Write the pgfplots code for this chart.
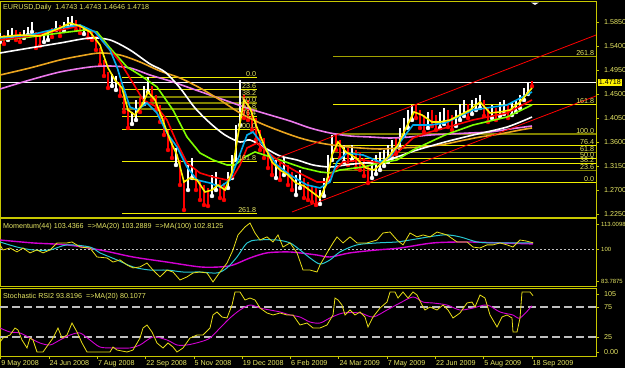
\documentclass[border=0pt]{standalone}
\usepackage{pgfplots}
\usepackage{pgfplotstable}
\pgfplotsset{compat=1.18}
\usepackage{fontspec}
\setmainfont{Liberation Sans}
\newcommand\fs{\fontsize{7.2}{8.6}\selectfont}
\newcommand\fss{\fontsize{6}{7.2}\selectfont}
\definecolor{fg}{RGB}{200,200,0}
\definecolor{txt}{RGB}{230,230,100}
\definecolor{fibolive}{RGB}{130,130,0}
\definecolor{fibyel}{RGB}{240,240,0}
\definecolor{maorange}{RGB}{235,165,30}
\definecolor{maviolet}{RGB}{235,120,235}
\definecolor{malime}{RGB}{128,255,0}
\definecolor{momcyan}{RGB}{40,200,210}
\definecolor{mommag}{RGB}{210,0,210}

\pgfplotstableread{
x lo hi
0 1.5475 1.5644
8 1.5513 1.5700
12 1.5569 1.5738
24 1.5550 1.5700
28 1.5606 1.5756
32 1.5663 1.5850
44 1.5475 1.5644
48 1.5513 1.5700
56 1.5700 1.5869
64 1.5681 1.5850
68 1.5756 1.5944
72 1.5794 1.5963
84 1.5625 1.5775
112 1.4650 1.4875
116 1.4575 1.4838
132 1.3938 1.4163
136 1.4013 1.4388
144 1.4313 1.4650
148 1.4538 1.4819
176 1.3169 1.3488
188 1.2700 1.3169
192 1.2925 1.3300
212 1.2588 1.2981
216 1.2700 1.3038
228 1.2738 1.3038
232 1.2925 1.3356
236 1.3263 1.3919
240 1.3919 1.4763
276 1.2925 1.3263
284 1.2981 1.3300
296 1.2606 1.2981
300 1.2738 1.3075
320 1.2438 1.2700
324 1.2588 1.2925
328 1.2888 1.3356
332 1.3263 1.3731
344 1.3225 1.3544
352 1.3263 1.3544
372 1.2925 1.3263
376 1.3000 1.3356
380 1.3075 1.3413
384 1.3150 1.3450
388 1.3225 1.3544
392 1.3300 1.3638
400 1.3488 1.3863
404 1.3713 1.4050
408 1.3863 1.4200
412 1.4013 1.4294
428 1.3863 1.4163
440 1.3863 1.4163
444 1.3938 1.4238
456 1.3900 1.4200
460 1.4013 1.4313
464 1.4088 1.4388
472 1.4125 1.4388
476 1.4200 1.4425
480 1.4238 1.4481
492 1.4050 1.4294
500 1.4088 1.4350
504 1.4125 1.4388
512 1.4106 1.4350
516 1.4163 1.4388
520 1.4238 1.4481
524 1.4388 1.4613
528 1.4500 1.4725
}\upbars

\pgfplotstableread{
x lo hi
4 1.5438 1.5606
16 1.5513 1.5700
20 1.5475 1.5663
36 1.5363 1.5663
40 1.5400 1.5588
52 1.5569 1.5738
60 1.5588 1.5794
76 1.5700 1.5888
80 1.5644 1.5813
88 1.5550 1.5738
92 1.5513 1.5700
96 1.5325 1.5588
100 1.5044 1.5363
104 1.4838 1.5138
108 1.4613 1.4913
120 1.4463 1.4725
124 1.4163 1.4538
128 1.3863 1.4238
140 1.4163 1.4425
152 1.4388 1.4650
156 1.4200 1.4481
160 1.3975 1.4294
164 1.3731 1.4050
168 1.3450 1.3825
172 1.3300 1.3638
180 1.2794 1.3263
184 1.2325 1.2888
196 1.2700 1.3075
200 1.2513 1.2888
204 1.2419 1.2794
208 1.2400 1.2738
220 1.2550 1.2888
224 1.2513 1.2831
244 1.4050 1.4481
248 1.4013 1.4388
252 1.3825 1.4200
256 1.3638 1.4050
260 1.3450 1.3825
264 1.3300 1.3675
268 1.3113 1.3450
272 1.2981 1.3356
280 1.2888 1.3206
288 1.2794 1.3169
292 1.2700 1.3038
304 1.2550 1.2925
308 1.2513 1.2850
312 1.2475 1.2775
316 1.2419 1.2738
336 1.3450 1.3769
340 1.3300 1.3638
348 1.3169 1.3488
356 1.3113 1.3450
360 1.3075 1.3413
364 1.2963 1.3300
368 1.2831 1.3169
396 1.3375 1.3675
416 1.4050 1.4313
420 1.3863 1.4200
424 1.3788 1.4106
432 1.3900 1.4200
436 1.3825 1.4106
448 1.3881 1.4200
452 1.3825 1.4106
468 1.4050 1.4313
484 1.4088 1.4388
488 1.3975 1.4238
496 1.4013 1.4238
508 1.4050 1.4313
532 1.4646 1.4743
}\downbars

\pgfplotsset{
  mtpanel/.style={
    scale only axis, width=596bp, xmin=0, xmax=596,
    anchor=north west,
    axis line style={fg, line width=1bp},
    tick style={fg, line width=0.8bp},
    major tick length=3bp, tick align=outside,
    ytick pos=right, yticklabel pos=right,
    xtick=\empty,
    yticklabel style={font=\fs, text=txt, anchor=west, inner sep=0pt, xshift=5bp},
    clip mode=individual,
  },
}

\begin{document}
\begin{tikzpicture}
\path[use as bounding box] (0bp,0bp) rectangle (625bp,368bp);
\fill[black] (0bp,0bp) rectangle (625bp,368bp);

% ---------------- main price panel ----------------
\begin{axis}[mtpanel, at={(0bp,366bp)}, height=215.5bp,
  ymin=1.21844, ymax=1.6225,
  ytick={1.2250,1.2700,1.3150,1.3600,1.4050,1.4500,1.4950,1.5400,1.5850},
  yticklabels={1.2250,1.2700,1.3150,1.3600,1.4050,1.4500,1.4950,1.5400,1.5850}]

% left Fibonacci levels
\addplot[fibyel, line width=0.8bp] coordinates {(122,1.4819) (257,1.4819)};
\addplot[fibyel, line width=0.8bp] coordinates {(122,1.4589) (257,1.4589)};
\addplot[fibolive, line width=1.4bp] coordinates {(122,1.4447) (257,1.4447)};
\addplot[fibolive, line width=1.4bp] coordinates {(122,1.4332) (257,1.4332)};
\addplot[fibolive, line width=1.4bp] coordinates {(122,1.4216) (257,1.4216)};
\addplot[fibyel, line width=0.8bp] coordinates {(122,1.4074) (257,1.4074)};
\addplot[fibyel, line width=0.8bp] coordinates {(122,1.3844) (257,1.3844)};
\addplot[fibyel, line width=0.8bp] coordinates {(122,1.3241) (257,1.3241)};
\addplot[fibyel, line width=0.8bp] coordinates {(122,1.2266) (257,1.2266)};
% right Fibonacci levels
\addplot[fibyel, line width=0.8bp] coordinates {(333,1.2850) (596,1.2850)};
\addplot[fibolive, line width=1.4bp] coordinates {(333,1.3062) (596,1.3062)};
\addplot[fibyel, line width=0.8bp] coordinates {(333,1.3194) (596,1.3194)};
\addplot[fibyel, line width=0.8bp] coordinates {(333,1.3300) (596,1.3300)};
\addplot[fibolive, line width=1.4bp] coordinates {(333,1.3406) (596,1.3406)};
\addplot[fibyel, line width=0.8bp] coordinates {(333,1.3538) (596,1.3538)};
\addplot[fibolive, line width=1.4bp] coordinates {(333,1.3750) (596,1.3750)};
\addplot[fibyel, line width=0.8bp] coordinates {(333,1.4306) (596,1.4306)};
\addplot[fibolive!70!fibyel, line width=1bp] coordinates {(333,1.5206) (596,1.5206)};
% bid line
\addplot[white, line width=0.8bp] coordinates {(0,1.4718) (596,1.4718)};

% candles
\addplot[white, only marks, mark=none, error bars/.cd, y dir=plus, y explicit,
  error mark=none, error bar style={white, line width=2.6bp}]
  table[x=x, y=lo, y error plus expr=\thisrow{hi}-\thisrow{lo}] {\upbars};
\addplot[red, only marks, mark=none, error bars/.cd, y dir=plus, y explicit,
  error mark=none, error bar style={red, line width=2.6bp}]
  table[x=x, y=lo, y error plus expr=\thisrow{hi}-\thisrow{lo}] {\downbars};

% moving averages
\addplot[maviolet, line width=1.6bp, smooth] coordinates {
(0,1.4594) (30,1.4763) (60,1.4913) (90,1.5006) (110,1.5025) (130,1.4988) (150,1.4856)
(170,1.4744) (190,1.4613) (210,1.4481) (230,1.4350) (250,1.4219) (270,1.4106) (290,1.3994)
(310,1.3863) (330,1.3769) (350,1.3713) (370,1.3694) (390,1.3675) (410,1.3694) (430,1.3731)
(450,1.3750) (470,1.3769) (490,1.3788) (510,1.3844) (532,1.3900)};
\addplot[maorange, line width=1.6bp, smooth] coordinates {
(0,1.4856) (30,1.4988) (60,1.5138) (80,1.5213) (100,1.5269) (120,1.5231) (140,1.5100)
(160,1.4931) (180,1.4800) (200,1.4613) (220,1.4388) (240,1.4144) (260,1.3956) (280,1.3806)
(300,1.3675) (320,1.3581) (340,1.3525) (360,1.3488) (380,1.3469) (400,1.3488) (420,1.3506)
(440,1.3544) (460,1.3619) (480,1.3694) (500,1.3750) (520,1.3825) (532,1.3863)};
\addplot[white, line width=1.6bp, smooth] coordinates {
(0,1.5269) (30,1.5363) (60,1.5456) (90,1.5550) (110,1.5513) (130,1.5325) (150,1.5063)
(165,1.4913) (180,1.4613) (195,1.4238) (210,1.3956) (225,1.3731) (240,1.3600) (250,1.3638)
(265,1.3488) (280,1.3338) (297,1.3263) (313,1.3169) (330,1.3131) (345,1.3169) (363,1.3206)
(380,1.3225) (397,1.3319) (417,1.3450) (445,1.3600) (473,1.3731) (507,1.3881) (532,1.4069)};
\addplot[malime, line width=1.6bp] coordinates {
(0,1.5513) (30,1.5569) (60,1.5644) (85,1.5700) (97,1.5663) (110,1.5363) (127,1.5006)
(140,1.4856) (157,1.4631) (173,1.4200) (187,1.3694) (200,1.3394) (213,1.3263) (227,1.3169)
(235,1.3169) (245,1.3319) (255,1.3413) (280,1.3263) (303,1.3113) (320,1.3038) (330,1.3019)
(340,1.3075) (363,1.3131) (380,1.3206) (397,1.3263) (413,1.3450) (430,1.3600) (445,1.3731)
(473,1.3919) (507,1.4069) (532,1.4294)};
\addplot[red, line width=1.6bp] coordinates {
(0,1.5513) (30,1.5588) (60,1.5700) (80,1.5775) (95,1.5663) (110,1.5325) (120,1.5100)
(133,1.4706) (143,1.4388) (157,1.4256) (167,1.4013) (177,1.3581) (187,1.3206) (200,1.3019)
(213,1.2944) (227,1.2888) (233,1.2944) (240,1.3169) (247,1.3488) (257,1.3581) (265,1.3450)
(280,1.3225) (297,1.3038) (317,1.2850) (327,1.2850) (333,1.3038) (343,1.3225) (363,1.3263)
(380,1.3206) (397,1.3394) (413,1.3675) (430,1.3788) (445,1.3863) (473,1.4013) (507,1.4144)
(532,1.4388)};
\addplot[cyan, line width=1.6bp] coordinates {
(0,1.5550) (30,1.5606) (60,1.5738) (80,1.5794) (95,1.5663) (110,1.5325) (117,1.5006)
(122,1.4700) (130,1.4256) (137,1.4200) (147,1.4331) (157,1.4144) (167,1.3769) (177,1.3506)
(187,1.3131) (197,1.2888) (210,1.2831) (220,1.2756) (230,1.2888) (237,1.3225) (247,1.3731)
(253,1.3788) (263,1.3544) (277,1.3169) (290,1.2981) (307,1.2794) (320,1.2738) (330,1.2850)
(337,1.3225) (347,1.3394) (363,1.3356) (380,1.3225) (390,1.3319) (403,1.3675) (413,1.3919)
(430,1.3919) (445,1.3956) (473,1.4200) (507,1.4294) (532,1.4538)};
\addplot[yellow, line width=1.6bp] coordinates {
(0,1.5569) (20,1.5606) (40,1.5588) (60,1.5738) (70,1.5831) (80,1.5775) (90,1.5663)
(100,1.5419) (108,1.4988) (115,1.4763) (122,1.4613) (128,1.4200) (135,1.4106) (142,1.4294)
(148,1.4538) (155,1.4388) (162,1.4050) (170,1.3638) (177,1.3356) (184,1.2850) (190,1.2925)
(197,1.2888) (205,1.2663) (212,1.2700) (218,1.2794) (225,1.2700) (232,1.3038) (238,1.3731)
(244,1.4388) (250,1.4238) (256,1.3919) (264,1.3544) (272,1.3225) (280,1.3075) (288,1.2981)
(296,1.2831) (304,1.2775) (312,1.2663) (320,1.2550) (326,1.2794) (332,1.3356) (338,1.3600)
(346,1.3413) (356,1.3300) (366,1.3113) (374,1.3075) (382,1.3206) (390,1.3356) (398,1.3544)
(406,1.3863) (414,1.4163) (422,1.4106) (432,1.3975) (440,1.3975) (450,1.4013) (460,1.4106)
(470,1.4200) (480,1.4350) (490,1.4144) (500,1.4163) (510,1.4200) (520,1.4350) (526,1.4481)
(532,1.4613)};

% trend channel
\addplot[red, line width=0.8bp] coordinates {(292,1.2288) (596,1.4463)};
\addplot[red, line width=0.8bp] coordinates {(277,1.3300) (596,1.5606)};

% level labels
\begin{scope}[every node/.style={font=\fs, text=txt, inner sep=0.6bp, anchor=south east}]
\node at (axis cs:257,1.4819) {0.0};
\node at (axis cs:257,1.4589) {23.6};
\node at (axis cs:257,1.4447) {38.2};
\node at (axis cs:257,1.4332) {50.0};
\node at (axis cs:257,1.4216) {61.8};
\node at (axis cs:257,1.4074) {76.4};
\node at (axis cs:257,1.3844) {100.0};
\node at (axis cs:257,1.3241) {161.8};
\node at (axis cs:257,1.2266) {261.8};
\node at (axis cs:595,1.2850) {0.0};
\node at (axis cs:595,1.3062) {23.6};
\node at (axis cs:595,1.3194) {38.2};
\node at (axis cs:595,1.3300) {50.0};
\node at (axis cs:595,1.3406) {61.8};
\node at (axis cs:595,1.3538) {76.4};
\node at (axis cs:595,1.3750) {100.0};
\node at (axis cs:595,1.4306) {161.8};
\node at (axis cs:595,1.5206) {261.8};
\end{scope}
\node[font=\fs, text=txt, anchor=north west, inner sep=0pt] at (rel axis cs:0,1) [xshift=3bp, yshift=-2.5bp]
  {EURUSD,Daily\ \ 1.4743 1.4743 1.4646 1.4718};
\node[fill=yellow, text=black, font=\fs, inner sep=0.7bp, anchor=west] at (axis cs:596,1.4718) [xshift=2bp] {1.4718};
\fill[white] (axis cs:531,1.6215) -- (axis cs:539,1.6215) -- (axis cs:535,1.6170) -- cycle;
\end{axis}

% ---------------- momentum panel ----------------
\begin{axis}[mtpanel, at={(0bp,149bp)}, height=68bp,
  ymin=80.711, ymax=115.573,
  ytick={83.7875,100,113.0098}, yticklabels={83.7875,100,113.0098},
  yticklabel style={font=\fss, xshift=-3bp}]
\addplot[white!75!black, dash pattern=on 2bp off 2bp, line width=0.8bp] coordinates {(0,100) (596,100)};
\addplot[mommag, line width=1.4bp, smooth] coordinates {
(0,104.8) (33,103.3) (67,102.3) (100,99.7) (133,96.1) (167,93.5) (200,91.0) (220,91.0)
(233,92.0) (250,95.6) (267,98.2) (287,98.7) (300,98.2) (317,97.1) (330,96.1) (350,98.2)
(377,99.7) (400,100.7) (433,103.3) (467,103.8) (500,103.3) (533,102.8)};
\addplot[momcyan, line width=1bp, smooth] coordinates {
(0,103.8) (17,101.2) (33,99.7) (50,99.7) (67,102.3) (90,101.2) (100,98.2) (117,94.6)
(133,91.0) (150,89.4) (167,89.4) (183,88.4) (200,88.4) (217,87.9) (227,90.5) (237,96.1)
(247,103.3) (257,104.8) (277,104.8) (290,103.3) (300,99.7) (310,95.6) (320,92.5) (330,94.6)
(340,98.7) (357,102.3) (377,103.3) (397,103.8) (410,104.8) (443,107.4) (460,106.4)
(477,103.8) (493,103.3) (513,103.3) (533,103.3)};
\addplot[yellow!90!black, line width=0.8bp] coordinates {
(0,102.3) (3,99.7) (10,100.7) (17,98.7) (23,100.7) (30,98.2) (37,99.7) (43,98.2) (50,99.7)
(57,103.3) (67,103.3) (72,103.8) (80,101.2) (90,100.7) (97,96.1) (107,95.6) (113,93.5)
(120,94.6) (127,92.0) (133,90.5) (140,91.0) (147,93.0) (153,89.4) (160,85.9) (167,89.4)
(173,88.4) (180,84.3) (187,85.9) (193,87.9) (200,88.4) (207,87.9) (213,83.3) (220,88.4)
(227,93.0) (233,99.7) (238,107.4) (245,111.5) (250,113.5) (255,108.4) (260,104.8)
(267,106.4) (273,103.8) (278,107.4) (283,101.2) (290,103.3) (297,98.2) (303,89.4)
(310,89.4) (317,88.4) (320,92.0) (327,98.2) (333,103.3) (337,106.4) (343,103.3) (350,106.4)
(357,103.3) (367,103.3) (377,104.8) (383,108.4) (390,108.9) (397,104.8) (403,102.3)
(410,108.4) (417,106.4) (423,107.4) (430,106.4) (437,108.9) (447,107.4) (457,103.8)
(467,103.8) (473,101.2) (480,100.7) (487,102.3) (493,102.3) (500,103.3) (507,102.3)
(513,101.2) (520,104.8) (526,104.3) (533,103.4)};
\node[font=\fs, text=txt, anchor=north west, inner sep=0pt] at (rel axis cs:0,1) [xshift=3bp, yshift=-4bp]
  {Momentum(44) 103.4366\ \ =>MA(20) 103.2889\ \ =>MA(100) 102.8125};
\end{axis}

% ---------------- stochastic RSI panel ----------------
\begin{axis}[mtpanel, at={(0bp,79bp)}, height=67bp,
  ymin=-6.667, ymax=105,
  ytick={0,25,75,96.67}, yticklabels={0.00,25,75,105},
  xtick={0.7,49,97.3,145.6,193.9,242.2,290.5,338.8,387.1,435.4,483.7,532},
  xticklabels={9 May 2008,24 Jun 2008,7 Aug 2008,22 Sep 2008,5 Nov 2008,19 Dec 2008,
    6 Feb 2009,24 Mar 2009,7 May 2009,22 Jun 2009,5 Aug 2009,18 Sep 2009},
  xtick pos=bottom,
  xticklabel style={font=\fs, text=txt, anchor=north west, inner sep=0pt, yshift=-1bp, xshift=0.5bp}]
\addplot[white!75!black, dash pattern=on 8bp off 4bp, line width=1.2bp] coordinates {(0,75) (596,75)};
\addplot[white!75!black, dash pattern=on 8bp off 4bp, line width=1.2bp] coordinates {(0,25) (596,25)};
\addplot[mommag, line width=0.9bp, smooth] coordinates {
(0,40) (10,33.3) (20,31.7) (30,23.3) (40,15) (50,11.7) (60,20) (70,28.3) (80,31.7) (90,20)
(100,8.3) (113,6.7) (130,6.7) (140,11.7) (153,25) (167,20) (177,11.7) (187,11.7) (200,16.7)
(210,23.3) (220,40) (230,56.7) (240,70) (250,78.3) (260,73.3) (270,70) (280,66.7) (290,61.7)
(300,58.3) (310,50) (320,48.3) (330,56.7) (343,65) (360,65) (373,58.3) (387,70) (400,81.7)
(413,91.7) (423,83.3) (433,81.7) (447,78.3) (460,70) (473,73.3) (487,78.3) (500,66.7)
(513,61.7) (520,56.7) (532,77)};
\addplot[yellow!90!black, line width=0.8bp] coordinates {
(0,16.7) (3,23.3) (10,28.3) (15,40) (18,36.7) (22,20) (27,6.7) (30,23.3) (33,20) (37,0)
(43,0) (48,11.7) (53,23.3) (58,40) (62,23.3) (67,28.3) (72,48.3) (77,33.3) (82,15) (87,0)
(97,0) (110,0) (113,8.3) (117,3.3) (127,0) (133,3.3) (140,23.3) (143,40) (147,45) (152,33.3)
(157,15) (163,6.7) (168,15) (173,8.3) (177,0) (183,6.7) (190,23.3) (197,28.3) (203,28.3)
(210,40) (213,61.7) (217,66.7) (222,58.3) (227,56.7) (232,78.3) (235,100) (240,100)
(245,86.7) (250,90) (255,86.7) (260,73.3) (267,65) (273,61.7) (280,65) (287,61.7) (293,61.7)
(300,45) (307,48.3) (313,40) (320,40) (327,45) (333,61.7) (335,90) (338,86.7) (342,78.3)
(345,61.7) (350,70) (355,61.7) (360,66.7) (365,58.3) (368,41.7) (373,58.3) (380,73.3)
(387,83.3) (390,100) (395,100) (398,90) (403,100) (408,90) (413,100) (417,95) (422,78.3)
(425,70) (430,75) (437,70) (443,78.3) (448,70) (453,56.7) (460,65) (467,81.7) (472,83.3)
(475,75) (480,95) (485,90) (490,61.7) (497,41.7) (502,58.3) (507,61.7) (512,56.7) (513,33.3)
(517,33.3) (520,56.7) (522,100) (530,100) (533,93.8)};
\node[font=\fs, text=txt, anchor=north west, inner sep=0pt] at (rel axis cs:0,1) [xshift=3bp, yshift=-4bp]
  {Stochastic RSI2 93.8196\ \ =>MA(20) 80.1077};
\end{axis}
\end{tikzpicture}
\end{document}
